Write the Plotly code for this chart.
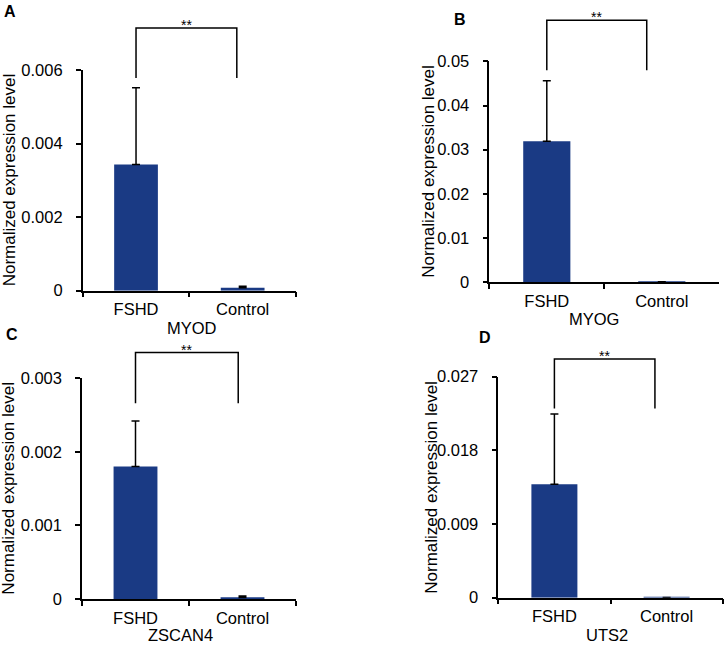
import plotly.graph_objects as go

# values
categories = ["FSHD", "Control"]
genes = ["MYOD", "MYOG", "ZSCAN4", "UTS2"]
panel_letters = ["A", "B", "C", "D"]

myod_mean = [0.00343, 0.00008]
myod_err = [0.00209, 0.00004]
myog_mean = [0.0319, 0.0001]
myog_err = [0.0137, 0.00005]
zscan4_mean = [0.0018, 0.00002]
zscan4_err = [0.00062, 0.00002]
uts2_mean = [0.01385, 0.00002]
uts2_err = [0.00858, 0.0]

myod_ticks = [0, 0.002, 0.004, 0.006]
myod_ticktext = ["0", "0.002", "0.004", "0.006"]
myog_ticks = [0, 0.01, 0.02, 0.03, 0.04, 0.05]
myog_ticktext = ["0", "0.01", "0.02", "0.03", "0.04", "0.05"]
zscan4_ticks = [0, 0.001, 0.002, 0.003]
zscan4_ticktext = ["0", "0.001", "0.002", "0.003"]
uts2_ticks = [0, 0.009, 0.018, 0.027]
uts2_ticktext = ["0", "0.009", "0.018", "0.027"]

signif = ["**", "**", "**", "**"]

W, H = 728, 646
BAR = "#1a3a84"
FONT = "Arial, Liberation Sans, sans-serif"

panels = [
    dict(mean=myod_mean, err=myod_err, ticks=myod_ticks, tt=myod_ticktext,
         xpx=(82.7, 296), ypx=(70, 290.7), br=(0.945, 0.00714, 0.00578),
         letter=(10, 12), title_x=9, gene_dx=3, gene_dy=-37),
    dict(mean=myog_mean, err=myog_err, ticks=myog_ticks, tt=myog_ticktext,
         xpx=(489.3, 719.3), ypx=(61.3, 282.3), br=(0.869, 0.0593, 0.0480),
         letter=(460, 19), title_x=429, gene_dx=-10, gene_dy=-37),
    dict(mean=zscan4_mean, err=zscan4_err, ticks=zscan4_ticks, tt=zscan4_ticktext,
         xpx=(82, 296), ypx=(378.3, 599), br=(0.96, 0.00335, 0.00266),
         letter=(12, 334), title_x=9, gene_dx=-9, gene_dy=-36),
    dict(mean=uts2_mean, err=uts2_err, ticks=uts2_ticks, tt=uts2_ticktext,
         xpx=(498.3, 722.7), ypx=(376.7, 597.7), br=(0.896, 0.02915, 0.02313),
         letter=(485, 337), title_x=431.5, gene_dx=-4, gene_dy=-37),
]

fig = go.Figure()
shapes = []
annotations = []

for i, p in enumerate(panels):
    n = "" if i == 0 else str(i + 1)
    xa, ya = "x" + n, "y" + n
    ymax = p["ticks"][-1]
    fig.add_trace(go.Bar(
        x=categories, y=p["mean"], xaxis=xa, yaxis=ya, width=0.41,
        marker=dict(color=BAR, line=dict(width=0)),
        error_y=dict(type="data", array=p["err"], arrayminus=[0, 0], symmetric=False,
                     color="black", thickness=1.5, width=4),
        showlegend=False, hoverinfo="skip",
    ))
    x0, x1 = p["xpx"][0] / W, p["xpx"][1] / W
    y0, y1 = 1 - p["ypx"][1] / H, 1 - p["ypx"][0] / H
    fig.update_layout({
        "xaxis" + n: dict(domain=[x0, x1], anchor=ya, range=[-0.5, 1.5], type="category",
                          showline=True, linecolor="black", linewidth=1.5,
                          ticks="outside", tickson="boundaries", ticklen=5, tickwidth=1.5,
                          tickcolor="black", ticklabelstandoff=3, automargin=False,
                          tickfont=dict(size=16.5, color="black", family=FONT),
                          showgrid=False, zeroline=False, fixedrange=True),
        "yaxis" + n: dict(domain=[y0, y1], anchor=xa, range=[0, ymax],
                          tickvals=p["ticks"], ticktext=p["tt"],
                          showline=True, linecolor="black", linewidth=1.5,
                          ticks="outside", ticklen=5, tickwidth=1.5, tickcolor="black",
                          ticklabelstandoff=10, automargin=False,
                          tickfont=dict(size=16.5, color="black", family=FONT),
                          showgrid=False, zeroline=False, fixedrange=True),
    })

    # significance bracket (domain refs so it is not clipped above the axis)
    bx1, btop, bleg = p["br"]
    fx = lambda v: (v + 0.5) / 2.0
    fy = lambda v: v / ymax
    path = "M {a},{b} L {a},{c} L {d},{c} L {d},{b}".format(
        a=fx(0), b=fy(bleg), c=fy(btop), d=fx(bx1))
    shapes.append(dict(type="path", path=path, xref=xa + " domain", yref=ya + " domain",
                       line=dict(color="black", width=1.5)))
    annotations.append(dict(text=signif[i], x=(fx(0) + fx(bx1)) / 2, y=fy(btop),
                            xref=xa + " domain", yref=ya + " domain",
                            xanchor="center", yanchor="middle", yshift=3, showarrow=False,
                            font=dict(size=14, color="black", family=FONT)))
    # gene name under the category labels
    annotations.append(dict(text=genes[i], x=0.5, y=0, xref=xa + " domain", yref=ya + " domain",
                            xanchor="center", yanchor="middle", xshift=p["gene_dx"],
                            yshift=p["gene_dy"], showarrow=False,
                            font=dict(size=16.5, color="black", family=FONT)))
    # y axis title
    annotations.append(dict(text="Normalized expression level", textangle=-90,
                            x=p["title_x"] / W, y=(y0 + y1) / 2, xref="paper", yref="paper",
                            xanchor="center", yanchor="middle", showarrow=False,
                            font=dict(size=17, color="black", family=FONT)))
    # panel letter
    annotations.append(dict(text="<b>" + panel_letters[i] + "</b>",
                            x=p["letter"][0] / W, y=1 - p["letter"][1] / H,
                            xref="paper", yref="paper", xanchor="center", yanchor="middle",
                            showarrow=False, font=dict(size=16, color="black", family=FONT)))

fig.update_layout(
    width=W, height=H,
    margin=dict(l=0, r=0, t=0, b=0, autoexpand=False),
    paper_bgcolor="white", plot_bgcolor="white",
    shapes=shapes, annotations=annotations,
)

# drop the default body margin so the figure sits at the window's corner
fig.write_html("out.html", config={"displayModeBar": False},
               post_script="document.body.style.margin='0';")
